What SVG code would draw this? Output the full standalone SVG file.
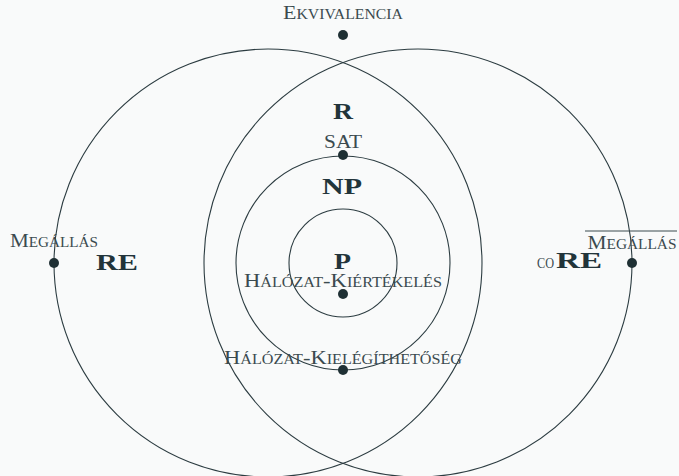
<svg xmlns="http://www.w3.org/2000/svg" width="679" height="476" viewBox="0 0 679 476">
<style>
.c{fill:none;stroke:#2c3c41;stroke-width:1.1}
.d{fill:#1f3034}
.sc{font-family:"Liberation Serif","DejaVu Serif",serif;font-variant:small-caps;font-size:19.5px;fill:#3b4a4f;text-anchor:middle}
.b{font-family:"Liberation Serif","DejaVu Serif",serif;font-weight:bold;font-size:23px;fill:#22343a;text-anchor:middle}
</style>
<rect width="679" height="476" fill="#f9fafa"/>
<g id="connectors">
<circle id="re-circle" class="c" cx="268" cy="263" r="214"/>
<circle id="core-circle" class="c" cx="418" cy="263" r="214"/>
<circle id="np-circle" class="c" cx="343" cy="263" r="107"/>
<circle id="p-circle" class="c" cx="343" cy="263" r="54"/>
</g>
<g id="region-R"><text class="b" x="343" y="119" textLength="20" lengthAdjust="spacingAndGlyphs">R</text></g>
<g id="region-NP"><text class="b" x="342" y="194" textLength="40" lengthAdjust="spacingAndGlyphs">NP</text></g>
<g id="region-P"><text class="b" x="342.5" y="269" textLength="17" lengthAdjust="spacingAndGlyphs">P</text></g>
<g id="region-RE"><text class="b" x="117" y="270" textLength="42" lengthAdjust="spacingAndGlyphs">RE</text></g>
<g id="region-coRE"><text x="537" y="268" font-family="Liberation Serif, DejaVu Serif, serif" fill="#22343a"><tspan font-variant="small-caps" font-size="22" fill="#3b4a4f" textLength="17" lengthAdjust="spacingAndGlyphs">co</tspan><tspan x="556" font-weight="bold" font-size="23" textLength="46" lengthAdjust="spacingAndGlyphs">RE</tspan></text></g>
<g id="node-ekvivalencia">
<text class="sc" x="343" y="19" textLength="120" lengthAdjust="spacingAndGlyphs">Ekvivalencia</text>
<circle class="d" cx="343" cy="35" r="5"/>
</g>
<g id="node-sat">
<text class="sc" x="343" y="148" textLength="38" lengthAdjust="spacingAndGlyphs">SAT</text>
<circle class="d" cx="343" cy="155" r="5"/>
</g>
<g id="node-megallas">
<text class="sc" x="54" y="247" textLength="88" lengthAdjust="spacingAndGlyphs">Megállás</text>
<circle class="d" cx="54" cy="263" r="5"/>
</g>
<g id="node-megallas-complement">
<text class="sc" x="632" y="249" textLength="89" lengthAdjust="spacingAndGlyphs">Megállás</text>
<line x1="585" y1="231" x2="677" y2="231" stroke="#3b4a4f" stroke-width="1"/>
<circle class="d" cx="632" cy="263" r="5"/>
</g>
<g id="node-kiertekeles">
<text class="sc" x="343" y="287" textLength="198" lengthAdjust="spacingAndGlyphs">Hálózat-Kiértékelés</text>
<circle class="d" cx="343" cy="294" r="5"/>
</g>
<g id="node-kielegithetoseg">
<text class="sc" x="343" y="364" textLength="238" lengthAdjust="spacingAndGlyphs">Hálózat-Kielégíthetőség</text>
<circle class="d" cx="343" cy="370" r="5"/>
</g>
</svg>
